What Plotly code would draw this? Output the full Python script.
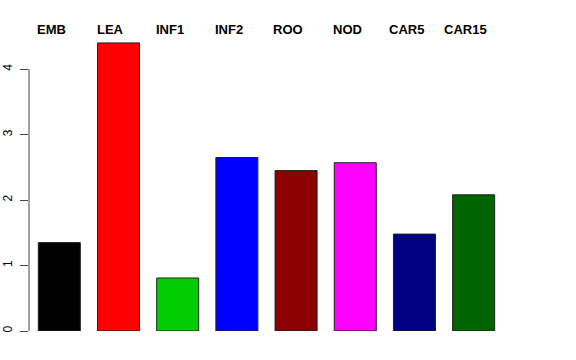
import plotly.graph_objects as go

categories = ["EMB", "LEA", "INF1", "INF2", "ROO", "NOD", "CAR5", "CAR15"]
values = [1.35, 4.40, 0.81, 2.65, 2.45, 2.57, 1.48, 2.08]
colors = ["#000000", "#FF0000", "#00CD00", "#0000FF", "#8B0000", "#FF00FF", "#000080", "#006400"]
y_ticks = [0, 1, 2, 3, 4]

fig = go.Figure()
fig.add_trace(go.Bar(
    x=list(range(len(categories))),
    y=values,
    marker=dict(color=colors, line=dict(color="#222222", width=1)),
    hoverinfo="skip",
))

for i, name in enumerate(categories):
    fig.add_annotation(
        x=i, xref="x", y=1, yref="paper",
        text="<b>" + name + "</b>", showarrow=False,
        xanchor="center", yanchor="middle", xshift=-8, yshift=-9.5,
        font=dict(family="Liberation Sans, Arial, sans-serif", size=13, color="black"),
    )

# y axis line spanning tick range only (R style)
fig.add_shape(type="line", xref="paper", yref="y",
              x0=0, x1=0, y0=y_ticks[0], y1=y_ticks[-1],
              line=dict(color="#444444", width=1))

fig.update_layout(
    width=576, height=360,
    margin=dict(l=29, r=26, t=20, b=29, autoexpand=False),
    paper_bgcolor="white", plot_bgcolor="white",
    showlegend=False,
    bargap=0.29,
    font=dict(family="Liberation Sans, Arial, sans-serif", size=12, color="black"),
    xaxis=dict(range=[-0.512, 8.29], showticklabels=False, showgrid=False,
               zeroline=False, showline=False, ticks="", automargin=False),
    yaxis=dict(range=[0, 4.75], tickvals=y_ticks, ticktext=[str(v) for v in y_ticks],
               tickangle=-90, ticks="outside", ticklen=8, tickcolor="#444444",
               showgrid=False, zeroline=False, showline=False, automargin=False,
               ticklabelstandoff=3,
               tickfont=dict(size=12, color="black")),
)

fig.write_html("out.html",
               config={"displayModeBar": False, "staticPlot": True},
               post_script="document.body.style.margin='0';document.body.style.overflow='hidden';")
